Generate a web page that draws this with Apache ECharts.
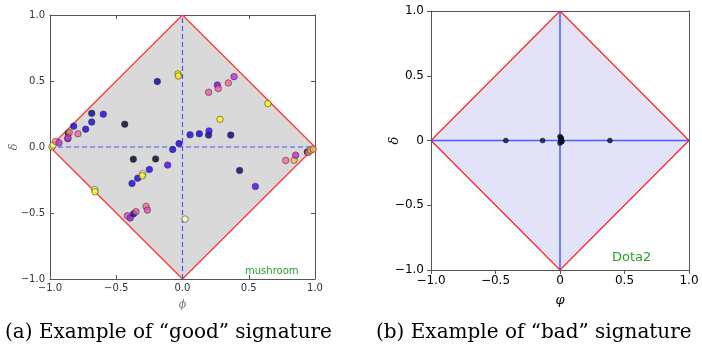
<!DOCTYPE html>
<html>
<head>
<meta charset="utf-8">
<script src="https://cdn.jsdelivr.net/npm/echarts@6/dist/echarts.min.js"></script>
<style>html,body{margin:0;padding:0;background:#fff}#c{width:702px;height:348px}</style>
</head>
<body>
<div id="c"></div>
<script>
// ---- data ----
var diamondPhi = [-1, 0, 1, 0, -1];
var diamondDelta = [0, 1, 0, -1, 0];
var axisTicks = [-1.0, -0.5, 0.0, 0.5, 1.0];

// (a) mushroom: phi, delta, colour value (0..1 on gnuplot2-like scale)
var phiA = [-0.985,-0.977,-0.957,-0.932,-0.866,-0.862,-0.854,-0.864,-0.789,-0.821,-0.731,-0.685,-0.685,-0.598,
  -0.436,-0.19,-0.034,-0.031,-0.026,-0.074,-0.112,-0.203,-0.371,-0.381,-0.338,-0.301,-0.303,-0.25,
  -0.663,-0.66,-0.416,-0.394,-0.369,-0.351,-0.275,-0.265,0.019,0.057,0.127,0.197,0.2,0.197,0.263,0.27,
  0.346,0.389,0.283,0.364,0.645,0.431,0.55,0.779,0.842,0.854,0.942,0.95,0.967,0.987];
var deltaA = [0.002,0.015,0.043,0.032,0.063,0.105,0.11,0.07,0.1,0.158,0.135,0.189,0.255,0.249,
  0.173,0.496,0.554,0.538,0.026,-0.019,-0.137,-0.09,-0.092,-0.276,-0.236,-0.203,-0.218,-0.17,
  -0.322,-0.339,-0.521,-0.538,-0.506,-0.49,-0.45,-0.478,-0.546,0.092,0.1,0.09,0.122,0.415,0.47,0.443,
  0.485,0.533,0.21,0.09,0.329,-0.178,-0.299,-0.102,-0.1,-0.062,-0.037,-0.042,-0.024,-0.016];
var shadeA = [0.9,0.96,0.7,0.5,0.45,0.03,0.7,0.52,0.6,0.25,0.25,0.25,0.15,0.27,
  0.04,0.15,0.9,0.88,0.26,0.25,0.35,0.03,0.03,0.25,0.25,0.97,0.9,0.28,
  0.97,0.9,0.55,0.45,0.15,0.58,0.62,0.56,0.97,0.25,0.22,0.15,0.33,0.58,0.4,0.6,
  0.6,0.5,0.9,0.12,0.9,0.12,0.36,0.62,0.78,0.5,0.05,0.68,0.75,0.76];

// (b) Dota2
var phiB = [-0.42,-0.135,0.387,0.0,0.01,0.005,0.012,0.0,0.015,0.008];
var deltaB = [0,0,0,0.03,0.02,0.0,-0.01,-0.02,-0.005,0.01];

var captionA = '(a) Example of \u201cgood\u201d signature';
var captionB = '(b) Example of \u201cbad\u201d signature';

// ---- build ----
function zip(a, b, c) { return a.map(function (v, i) { return c ? [v, b[i], c[i]] : [v, b[i]]; }); }
var diamond = zip(diamondPhi, diamondDelta);
var gnuplot2 = ['#000000','#000066','#0000cc','#2800ff','#7800ff','#c729d6','#ff5ca3','#ff8f70','#ffc23d','#fff50a','#ffffff'];

function polyItem(idx) {
  return function (params, api) {
    var pts = diamond.map(function (p) { return api.coord(p); });
    return { type: 'polygon', shape: { points: pts }, style: { fill: idx === 0 ? '#d9d9d9' : '#e3e3f8' }, silent: true };
  };
}

function fmt(leftStyle) {
  return function (v) { var s = (!leftStyle && v === 0) ? '0' : v.toFixed(1); return s.replace('-', '\u2212'); };
}
function xAx(gi, leftStyle) {
  return {
    gridIndex: gi, type: 'value', min: -1, max: 1, interval: 0.5,
    name: gi === 0 ? '\u03d5' : '\u03c6', nameLocation: 'middle', nameGap: gi === 0 ? 21 : 24, nameMoveOverlap: false,
    nameTextStyle: gi === 0 ? { fontFamily: 'DejaVu Serif', fontStyle: 'italic', fontSize: 11, color: '#777' } : { fontFamily: 'DejaVu Serif', fontStyle: 'italic', fontSize: 13, color: '#000' },
    axisLine: { show: true, onZero: false, lineStyle: { color: '#555' } },
    axisTick: { show: true, inside: leftStyle, length: 4, lineStyle: { color: '#555' } },
    axisLabel: { fontFamily: 'DejaVu Sans', fontSize: leftStyle ? 10 : 12, color: leftStyle ? '#333' : '#000', margin: leftStyle ? 4 : 5, formatter: fmt(leftStyle) },
    splitLine: { show: false }
  };
}
function yAx(gi, leftStyle) {
  return {
    gridIndex: gi, type: 'value', min: -1, max: 1, interval: 0.5,
    name: '\u03b4', nameLocation: 'middle', nameRotate: 90, nameGap: leftStyle ? 30 : 30, nameMoveOverlap: false,
    nameTextStyle: { fontFamily: 'DejaVu Serif', fontStyle: 'italic', fontSize: leftStyle ? 11 : 13, color: leftStyle ? '#666' : '#000' },
    axisLine: { show: true, onZero: false, lineStyle: { color: '#555' } },
    axisTick: { show: true, inside: leftStyle, length: 4, lineStyle: { color: '#555' } },
    axisLabel: { fontFamily: 'DejaVu Sans', fontSize: leftStyle ? 10 : 12, color: leftStyle ? '#333' : '#000', margin: leftStyle ? 5 : 7, formatter: fmt(leftStyle) },
    splitLine: { show: false }
  };
}
function boxAx(gi, pos) {
  return { gridIndex: gi, type: 'value', min: -1, max: 1, interval: 0.5, position: pos,
    axisLine: { show: true, onZero: false, lineStyle: { color: '#555' } },
    axisTick: { show: gi === 0, inside: true, length: 4, lineStyle: { color: '#555' } },
    axisLabel: { show: false }, splitLine: { show: false } };
}

var chart = echarts.init(document.getElementById('c'), null, { renderer: 'canvas' });
chart.setOption({
  animation: false,
  backgroundColor: '#fff',
  grid: [
    { left: 50, top: 15, width: 265, height: 264 },
    { left: 431, top: 11, width: 258, height: 259 }
  ],
  xAxis: [xAx(0, true), xAx(1, false), boxAx(0, 'top'), boxAx(1, 'top')],
  yAxis: [yAx(0, true), yAx(1, false), boxAx(0, 'right'), boxAx(1, 'right')],
  visualMap: [{ show: false, type: 'continuous', seriesIndex: 4, dimension: 2, min: 0, max: 1, inRange: { color: gnuplot2 } }],
  series: [
    { type: 'custom', xAxisIndex: 0, yAxisIndex: 0, data: [0], renderItem: polyItem(0), silent: true, z: 1 },
    { type: 'line', xAxisIndex: 0, yAxisIndex: 0, data: diamond, symbol: 'none', lineStyle: { color: '#ff3333', width: 1.2 }, z: 3 },
    { type: 'line', xAxisIndex: 0, yAxisIndex: 0, data: [[-1, 0], [1, 0]], symbol: 'none', lineStyle: { color: '#4455ff', width: 1.2, type: [5, 3] }, z: 3 },
    { type: 'line', xAxisIndex: 0, yAxisIndex: 0, data: [[0, -1], [0, 1]], symbol: 'none', lineStyle: { color: '#4455ff', width: 1.2, type: [5, 3] }, z: 3 },
    { type: 'scatter', xAxisIndex: 0, yAxisIndex: 0, data: zip(phiA, deltaA, shadeA), symbolSize: 6.5,
      itemStyle: { opacity: 0.8, borderColor: '#333', borderWidth: 0.7 }, z: 5 },
    { type: 'custom', xAxisIndex: 1, yAxisIndex: 1, data: [0], renderItem: polyItem(1), silent: true, z: 1 },
    { type: 'line', xAxisIndex: 1, yAxisIndex: 1, data: diamond, symbol: 'none', lineStyle: { color: '#ff2222', width: 1.2 }, z: 3 },
    { type: 'line', xAxisIndex: 1, yAxisIndex: 1, data: [[-1, 0], [1, 0]], symbol: 'none', lineStyle: { color: '#3344ff', width: 1.5, opacity: 0.85 }, z: 3 },
    { type: 'line', xAxisIndex: 1, yAxisIndex: 1, data: [[0, -1], [0, 1]], symbol: 'none', lineStyle: { color: '#3344ff', width: 1.5, opacity: 0.85 }, z: 3 },
    { type: 'scatter', xAxisIndex: 1, yAxisIndex: 1, data: zip(phiB, deltaB), symbolSize: 5,
      itemStyle: { color: '#111133', borderColor: '#000', borderWidth: 0.5 }, z: 5 }
  ],
  graphic: [
    { type: 'text', left: 245, top: 266, style: { text: 'mushroom', fill: '#2a9d2a', font: '10px DejaVu Sans' } },
    { type: 'text', left: 612, top: 251, style: { text: 'Dota2', fill: '#2ca02c', font: '13px DejaVu Sans' } },
    { type: 'text', left: 5, top: 323, style: { text: captionA, fill: '#000', font: '20px DejaVu Serif' } },
    { type: 'text', left: 376, top: 323, style: { text: captionB, fill: '#000', font: '20px DejaVu Serif' } }
  ]
});
</script>
</body>
</html>
